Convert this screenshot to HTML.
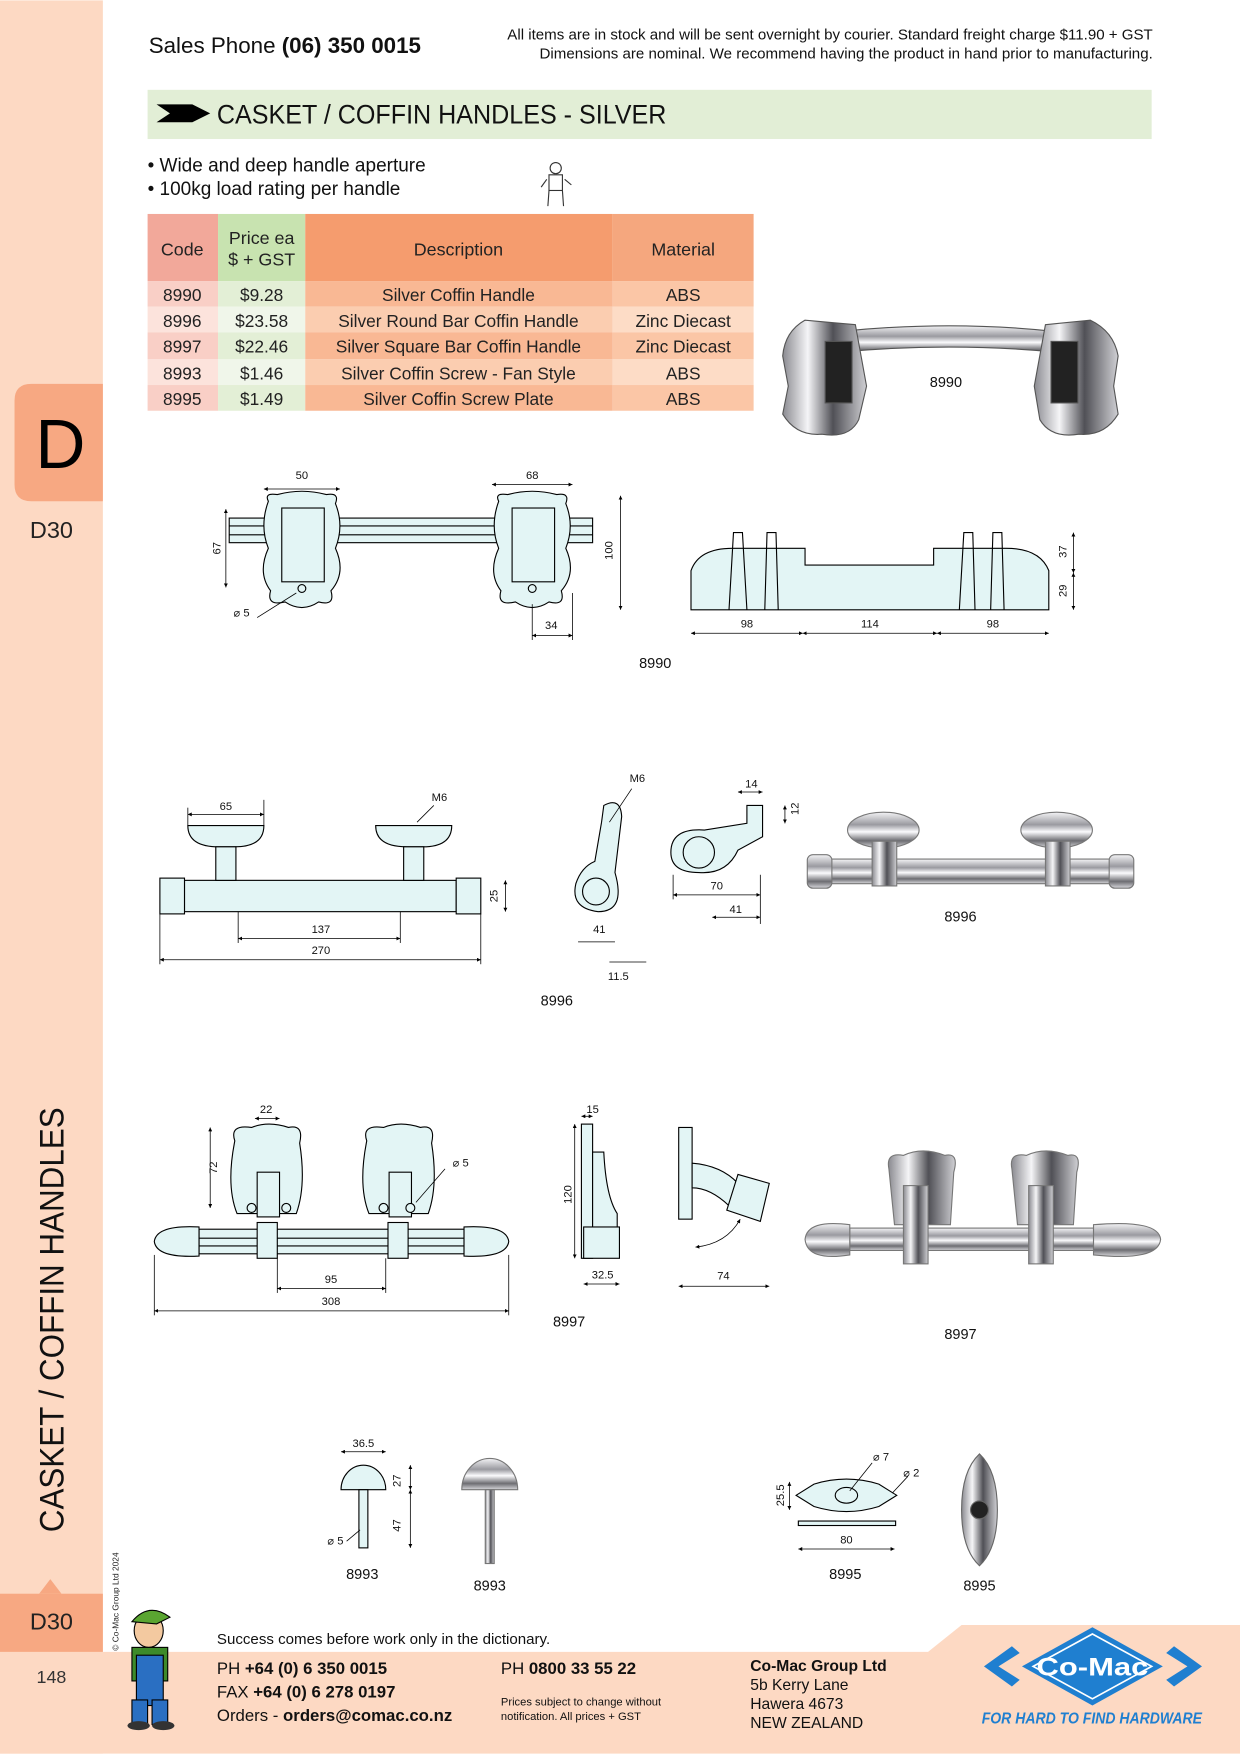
<!DOCTYPE html>
<html><head><meta charset="utf-8"><style>
html,body{margin:0;padding:0;background:#fff;}
svg{display:block}
text{font-family:"Liberation Sans",sans-serif;}
</style></head><body>
<svg width="1240" height="1754" viewBox="0 0 1109 1568" xmlns="http://www.w3.org/2000/svg">
<defs>
<linearGradient id="chr" x1="0" y1="0" x2="0" y2="1">
<stop offset="0" stop-color="#f4f4f6"/><stop offset="0.35" stop-color="#9a9aa0"/><stop offset="0.55" stop-color="#fbfbfd"/><stop offset="0.8" stop-color="#6d6d72"/><stop offset="1" stop-color="#d8d8dc"/></linearGradient>
<linearGradient id="chrh" x1="0" y1="0" x2="1" y2="0">
<stop offset="0" stop-color="#8a8a90"/><stop offset="0.3" stop-color="#f5f5f7"/><stop offset="0.6" stop-color="#505056"/><stop offset="1" stop-color="#d0d0d4"/></linearGradient>
<marker id="ar" viewBox="0 0 6 6" refX="6" refY="3" markerWidth="5" markerHeight="5" orient="auto-start-reverse"><path d="M0,0L6,3L0,6z" fill="#000"/></marker>
</defs>

<!-- sidebar -->
<rect x="0" y="0" width="92" height="1568" fill="#fdd9c3"/>
<path d="M92,343 L28,343 Q13,343 13,358 L13,433 Q13,448 28,448 L92,448 Z" fill="#f7a882"/>
<text x="54" y="418" font-size="62" text-anchor="middle" fill="#000">D</text>
<text x="46" y="481" font-size="21" text-anchor="middle" fill="#222">D30</text>
<text transform="translate(57,1370) rotate(-90)" font-size="31" fill="#111" textLength="380" lengthAdjust="spacingAndGlyphs">CASKET / COFFIN HANDLES</text>
<text transform="translate(106,1476) rotate(-90)" font-size="7.5" fill="#222">© Co-Mac Group Ltd 2024</text>

<!-- footer band -->
<polygon points="0,1477 830,1477 860,1453 1109,1453 1109,1568 0,1568" fill="#fdd9c3"/>
<polygon points="35,1425 45,1412 55,1425" fill="#f7a882"/>
<rect x="0" y="1425" width="92" height="52" fill="#f7a882"/>
<text x="46" y="1457" font-size="21" text-anchor="middle" fill="#222">D30</text>
<text x="46" y="1505" font-size="16" text-anchor="middle" fill="#333">148</text>

<!-- mascot -->
<g>
<ellipse cx="133" cy="1458" rx="13" ry="15" fill="#f3c9a0" stroke="#000"/>
<path d="M118,1450 Q133,1432 152,1446 L140,1452 Z" fill="#5aa531" stroke="#000"/>
<rect x="118" y="1473" width="32" height="30" fill="#3d8a2a" stroke="#000"/>
<rect x="122" y="1480" width="24" height="45" fill="#2a6fc2" stroke="#000"/>
<rect x="118" y="1520" width="14" height="22" fill="#2a6fc2" stroke="#000"/>
<rect x="136" y="1520" width="14" height="22" fill="#2a6fc2" stroke="#000"/>
<ellipse cx="124" cy="1543" rx="10" ry="4" fill="#333"/><ellipse cx="146" cy="1543" rx="10" ry="4" fill="#333"/>
</g>

<text x="194" y="1470" font-size="13.5" fill="#111">Success comes before work only in the dictionary.</text>
<text x="194" y="1497" font-size="15" fill="#111">PH  <tspan font-weight="bold">+64 (0) 6 350 0015</tspan></text>
<text x="194" y="1518" font-size="15" fill="#111">FAX <tspan font-weight="bold">+64 (0) 6 278 0197</tspan></text>
<text x="194" y="1539" font-size="15" fill="#111">Orders - <tspan font-weight="bold">orders@comac.co.nz</tspan></text>
<text x="448" y="1497" font-size="15" fill="#111">PH   <tspan font-weight="bold">0800 33 55 22</tspan></text>
<text x="448" y="1525" font-size="10" fill="#111">Prices subject to change without</text>
<text x="448" y="1538" font-size="10" fill="#111">notification. All prices + GST</text>
<text x="671" y="1494" font-size="14" font-weight="bold" fill="#111">Co-Mac Group Ltd</text>
<text x="671" y="1511" font-size="14" fill="#111">5b Kerry Lane</text>
<text x="671" y="1528" font-size="14" fill="#111">Hawera 4673</text>
<text x="671" y="1545" font-size="14" fill="#111">NEW ZEALAND</text>
<!-- logo -->
<polygon points="880,1490 905,1472 912,1478 893,1490 912,1502 905,1508" fill="#1f7fd0"/>
<polygon points="1075,1490 1050,1472 1043,1478 1062,1490 1043,1502 1050,1508" fill="#1f7fd0"/>
<polygon points="977,1455 1040,1490 977,1525 914,1490" fill="#1f7fd0"/>
<polygon points="977,1461 1030,1490 977,1519 924,1490" fill="none" stroke="#fff" stroke-width="1.5"/>
<text x="977" y="1498" font-size="22" font-weight="bold" fill="#fff" text-anchor="middle" textLength="100" lengthAdjust="spacingAndGlyphs">Co-Mac</text>
<text x="878" y="1541" font-size="14" font-weight="bold" font-style="italic" fill="#1f7fd0" textLength="197" lengthAdjust="spacingAndGlyphs">FOR HARD TO FIND HARDWARE</text>

<!-- header -->
<text x="133" y="47" font-size="20" fill="#111">Sales Phone  <tspan font-weight="bold">(06) 350 0015</tspan></text>
<text x="1031" y="35" font-size="13.5" fill="#111" text-anchor="end">All items are in stock and will be sent overnight by courier. Standard freight charge $11.90 + GST</text>
<text x="1031" y="52" font-size="13.5" fill="#111" text-anchor="end">Dimensions are nominal. We recommend having the product in hand prior to manufacturing.</text>

<rect x="132" y="80" width="898" height="44" fill="#e2eed6"/>
<polygon points="140,93 172,93 188,101 172,109 140,109 152,101" fill="#000"/>
<text x="194" y="110" font-size="24" fill="#111" textLength="402" lengthAdjust="spacingAndGlyphs">CASKET / COFFIN HANDLES - SILVER</text>

<text x="132" y="153" font-size="17" fill="#111">• Wide and deep handle aperture</text>
<text x="132" y="174" font-size="17" fill="#111">• 100kg load rating per handle</text>
<g fill="none" stroke="#333" stroke-width="1">
<circle cx="497" cy="150" r="5"/><rect x="491" y="156" width="12" height="14"/><path d="M491,170 L490,184 M503,170 L504,184 M489,160 L484,167 M505,160 L511,165"/>
</g>

<!-- table -->
<rect x="132" y="191" width="63" height="60" fill="#f2a89a"/>
<rect x="195" y="191" width="78" height="60" fill="#c8e3b0"/>
<rect x="273" y="191" width="275" height="60" fill="#f59c6e"/>
<rect x="548" y="191" width="126" height="60" fill="#f5a77e"/>
<g font-size="16" fill="#222" text-anchor="middle">
<text x="163" y="228">Code</text>
<text x="234" y="218">Price ea</text><text x="234" y="237">$ + GST</text>
<text x="410" y="228">Description</text>
<text x="611" y="228">Material</text>
</g>
<g>
<rect x="132" y="251" width="63" height="23" fill="#f9cfc6"/><rect x="195" y="251" width="78" height="23" fill="#e3efd6"/><rect x="273" y="251" width="275" height="23" fill="#f9b894"/><rect x="548" y="251" width="126" height="23" fill="#fbc6a6"/>
<rect x="132" y="274" width="63" height="23" fill="#fce3dc"/><rect x="195" y="274" width="78" height="23" fill="#f0f6ea"/><rect x="273" y="274" width="275" height="23" fill="#fbcdb0"/><rect x="548" y="274" width="126" height="23" fill="#fddcc6"/>
<rect x="132" y="297" width="63" height="24" fill="#f9cfc6"/><rect x="195" y="297" width="78" height="24" fill="#e3efd6"/><rect x="273" y="297" width="275" height="24" fill="#f9b894"/><rect x="548" y="297" width="126" height="24" fill="#fbc6a6"/>
<rect x="132" y="321" width="63" height="23" fill="#fce3dc"/><rect x="195" y="321" width="78" height="23" fill="#f0f6ea"/><rect x="273" y="321" width="275" height="23" fill="#fbcdb0"/><rect x="548" y="321" width="126" height="23" fill="#fddcc6"/>
<rect x="132" y="344" width="63" height="23" fill="#f9cfc6"/><rect x="195" y="344" width="78" height="23" fill="#e3efd6"/><rect x="273" y="344" width="275" height="23" fill="#f9b894"/><rect x="548" y="344" width="126" height="23" fill="#fbc6a6"/>
</g>
<g font-size="15.5" fill="#222" text-anchor="middle">
<text x="163" y="269">8990</text><text x="234" y="269">$9.28</text><text x="410" y="269">Silver Coffin Handle</text><text x="611" y="269">ABS</text>
<text x="163" y="292">8996</text><text x="234" y="292">$23.58</text><text x="410" y="292">Silver Round Bar Coffin Handle</text><text x="611" y="292">Zinc Diecast</text>
<text x="163" y="315">8997</text><text x="234" y="315">$22.46</text><text x="410" y="315">Silver Square Bar Coffin Handle</text><text x="611" y="315">Zinc Diecast</text>
<text x="163" y="339">8993</text><text x="234" y="339">$1.46</text><text x="410" y="339">Silver Coffin Screw - Fan Style</text><text x="611" y="339">ABS</text>
<text x="163" y="362">8995</text><text x="234" y="362">$1.49</text><text x="410" y="362">Silver Coffin Screw Plate</text><text x="611" y="362">ABS</text>
</g>

<!-- 8990 photo -->
<g stroke="#555" stroke-width="1">
<path d="M720,300 Q850,282 975,300 L975,318 Q850,302 720,318 Z" fill="url(#chr)"/>
<path d="M700,318 Q702,296 720,286 L765,290 L775,345 L768,375 Q760,392 735,388 Q712,390 700,370 L705,345 Z" fill="url(#chrh)"/>
<path d="M935,290 L975,286 Q996,296 1000,318 L996,345 L1000,370 Q988,390 965,388 Q940,392 930,375 L925,345 Z" fill="url(#chrh)"/>
<rect x="738" y="305" width="24" height="55" fill="#222"/><rect x="940" y="305" width="24" height="55" fill="#222"/>
</g>
<text x="846" y="346" font-size="13" text-anchor="middle" fill="#111">8990</text>

<!-- drawings style -->
<g fill="#e3f5f5" stroke="#000" stroke-width="1">
<!-- 8990 top view -->
<rect x="205" y="463" width="325" height="22"/>
<line x1="205" y1="470" x2="530" y2="470"/><line x1="205" y1="478" x2="530" y2="478"/>
<path d="M240,448 Q236,440 248,442 Q270,436 292,442 Q304,440 300,450 Q308,470 300,490 Q310,512 296,528 Q300,542 285,538 Q270,548 255,538 Q238,542 242,528 Q230,512 240,490 Q232,470 240,448 Z"/>
<rect x="252" y="454" width="38" height="66"/>
<path d="M446,448 Q442,440 454,442 Q476,436 498,442 Q510,440 506,450 Q514,470 506,490 Q516,512 502,528 Q506,542 491,538 Q476,548 461,538 Q444,542 448,528 Q436,512 446,490 Q438,470 446,448 Z"/>
<rect x="458" y="454" width="38" height="66"/>
<circle cx="270" cy="526" r="3.5"/><circle cx="476" cy="526" r="3.5"/>
<!-- 8990 side view -->
<path d="M618,545 L618,510 Q625,490 655,490 L720,490 L720,505 L835,505 L835,490 L900,490 Q930,490 938,510 L938,545 Z"/>
<path d="M652,545 L656,476 L664,476 L668,545 M684,545 L686,476 L694,476 L696,545 M858,545 L862,476 L870,476 L872,545 M886,545 L888,476 L896,476 L898,545" fill="none"/>
</g>
<g stroke="#000" stroke-width="0.7" fill="none">
<line x1="236" y1="437" x2="304" y2="437" marker-start="url(#ar)" marker-end="url(#ar)"/>
<line x1="440" y1="433" x2="512" y2="433" marker-start="url(#ar)" marker-end="url(#ar)"/>
<line x1="202" y1="455" x2="202" y2="525" marker-start="url(#ar)" marker-end="url(#ar)"/>
<line x1="555" y1="443" x2="555" y2="545" marker-start="url(#ar)" marker-end="url(#ar)"/>
<line x1="476" y1="568" x2="512" y2="568" marker-start="url(#ar)" marker-end="url(#ar)"/>
<line x1="476" y1="540" x2="476" y2="572"/><line x1="512" y1="530" x2="512" y2="572"/>
<line x1="618" y1="566" x2="718" y2="566" marker-start="url(#ar)" marker-end="url(#ar)"/>
<line x1="718" y1="566" x2="838" y2="566" marker-start="url(#ar)" marker-end="url(#ar)"/>
<line x1="838" y1="566" x2="938" y2="566" marker-start="url(#ar)" marker-end="url(#ar)"/>
<line x1="960" y1="476" x2="960" y2="512" marker-start="url(#ar)" marker-end="url(#ar)"/>
<line x1="960" y1="512" x2="960" y2="545" marker-start="url(#ar)" marker-end="url(#ar)"/>
<line x1="230" y1="552" x2="265" y2="530"/>
</g>
<g font-size="10" fill="#111" text-anchor="middle">
<text x="270" y="428">50</text><text x="476" y="428">68</text>
<text transform="translate(197,490) rotate(-90)">67</text>
<text transform="translate(548,492) rotate(-90)">100</text>
<text x="493" y="562">34</text><text x="216" y="551">⌀ 5</text>
<text x="668" y="561">98</text><text x="778" y="561">114</text><text x="888" y="561">98</text>
<text transform="translate(954,493) rotate(-90)">37</text>
<text transform="translate(954,528) rotate(-90)">29</text>
</g>
<text x="586" y="597" font-size="13" text-anchor="middle" fill="#111">8990</text>

<!-- 8996 drawings -->
<g fill="#e3f5f5" stroke="#000" stroke-width="1">
<rect x="165" y="787" width="243" height="28"/>
<rect x="143" y="785" width="22" height="32"/><rect x="408" y="785" width="22" height="32"/>
<path d="M168,738 L236,738 Q236,757 210,757 L196,757 Q168,757 168,738 Z"/>
<rect x="193" y="757" width="18" height="30"/>
<path d="M336,738 L404,738 Q404,757 378,757 L364,757 Q336,757 336,738 Z"/>
<rect x="361" y="757" width="18" height="30"/>
<path d="M540,720 Q555,712 556,730 L550,780 Q560,815 535,815 Q510,812 515,790 Q520,775 532,770 L538,735 Z"/>
<circle cx="533" cy="797" r="12"/>
<path d="M600,762 Q600,740 630,742 L668,736 L668,720 L682,720 L682,748 L660,760 Q650,782 625,780 Q600,780 600,762 Z"/>
<circle cx="625" cy="762" r="14"/>
</g>
<g stroke="#000" stroke-width="0.7" fill="none">
<line x1="168" y1="728" x2="236" y2="728" marker-start="url(#ar)" marker-end="url(#ar)"/>
<line x1="168" y1="722" x2="168" y2="738"/><line x1="236" y1="715" x2="236" y2="738"/>
<line x1="213" y1="839" x2="358" y2="839" marker-start="url(#ar)" marker-end="url(#ar)"/>
<line x1="143" y1="858" x2="430" y2="858" marker-start="url(#ar)" marker-end="url(#ar)"/>
<line x1="213" y1="815" x2="213" y2="843"/><line x1="358" y1="815" x2="358" y2="843"/>
<line x1="143" y1="817" x2="143" y2="862"/><line x1="430" y1="817" x2="430" y2="862"/>
<line x1="452" y1="787" x2="452" y2="815" marker-start="url(#ar)" marker-end="url(#ar)"/>
<line x1="373" y1="735" x2="388" y2="720"/>
<line x1="545" y1="735" x2="565" y2="705"/>
<line x1="517" y1="842" x2="550" y2="842"/><line x1="545" y1="860" x2="578" y2="860"/>
<line x1="602" y1="800" x2="680" y2="800" marker-start="url(#ar)" marker-end="url(#ar)"/>
<line x1="637" y1="820" x2="680" y2="820" marker-start="url(#ar)" marker-end="url(#ar)"/>
<line x1="680" y1="782" x2="680" y2="826"/><line x1="602" y1="782" x2="602" y2="804"/>
<line x1="660" y1="708" x2="682" y2="708" marker-start="url(#ar)" marker-end="url(#ar)"/>
<line x1="702" y1="720" x2="702" y2="736" marker-start="url(#ar)" marker-end="url(#ar)"/>
</g>
<g font-size="10" fill="#111" text-anchor="middle">
<text x="202" y="724">65</text><text x="393" y="716">M6</text>
<text x="287" y="834">137</text><text x="287" y="853">270</text>
<text transform="translate(445,801) rotate(-90)">25</text>
<text x="570" y="699">M6</text><text x="536" y="834">41</text><text x="553" y="876">11.5</text>
<text x="672" y="704">14</text><text transform="translate(714,723) rotate(-90)">12</text>
<text x="641" y="795">70</text><text x="658" y="816">41</text>
</g>
<text x="498" y="899" font-size="13" text-anchor="middle" fill="#111">8996</text>
<!-- 8996 photo -->
<g stroke="#777" stroke-width="1">
<rect x="735" y="768" width="268" height="22" rx="8" fill="url(#chr)"/>
<rect x="722" y="764" width="22" height="30" rx="5" fill="url(#chr)"/>
<rect x="992" y="764" width="22" height="30" rx="5" fill="url(#chr)"/>
<ellipse cx="790" cy="742" rx="32" ry="16" fill="url(#chr)"/><rect x="780" y="752" width="22" height="40" fill="url(#chrh)"/>
<ellipse cx="945" cy="742" rx="32" ry="16" fill="url(#chr)"/><rect x="935" y="752" width="22" height="40" fill="url(#chrh)"/>
</g>
<text x="859" y="824" font-size="13" text-anchor="middle" fill="#111">8996</text>

<!-- 8997 drawings -->
<g fill="#e3f5f5" stroke="#000" stroke-width="1">
<rect x="178" y="1099" width="237" height="22"/>
<line x1="178" y1="1107" x2="415" y2="1107"/><line x1="178" y1="1114" x2="415" y2="1114"/>
<path d="M138,1110 Q140,1095 178,1097 L178,1123 Q140,1125 138,1110 Z"/>
<path d="M455,1110 Q453,1095 415,1097 L415,1123 Q453,1125 455,1110 Z"/>
<path d="M210,1020 Q205,1005 225,1008 Q240,1002 258,1008 Q272,1005 268,1022 Q274,1060 265,1085 L212,1085 Q202,1060 210,1020 Z"/>
<rect x="230" y="1048" width="20" height="40"/><rect x="230" y="1093" width="18" height="32"/>
<circle cx="225" cy="1080" r="4"/><circle cx="256" cy="1080" r="4"/>
<path d="M328,1020 Q323,1005 343,1008 Q358,1002 376,1008 Q390,1005 386,1022 Q392,1060 383,1085 L330,1085 Q320,1060 328,1020 Z"/>
<rect x="348" y="1048" width="20" height="40"/><rect x="347" y="1093" width="18" height="32"/>
<circle cx="343" cy="1080" r="4"/><circle cx="367" cy="1080" r="4"/>
<rect x="520" y="1005" width="10" height="120"/>
<path d="M530,1030 L540,1030 Q542,1070 552,1085 L552,1100 L530,1100 Z"/>
<rect x="522" y="1097" width="32" height="28"/>
<rect x="607" y="1008" width="12" height="82"/>
<path d="M619,1040 Q645,1042 660,1058 L652,1078 Q635,1062 619,1062 Z"/>
<polygon points="660,1050 688,1058 680,1092 650,1082"/>
</g>
<g stroke="#000" stroke-width="0.7" fill="none">
<line x1="228" y1="1000" x2="250" y2="1000" marker-start="url(#ar)" marker-end="url(#ar)"/>
<line x1="188" y1="1008" x2="188" y2="1080" marker-start="url(#ar)" marker-end="url(#ar)"/>
<line x1="248" y1="1152" x2="345" y2="1152" marker-start="url(#ar)" marker-end="url(#ar)"/>
<line x1="138" y1="1172" x2="455" y2="1172" marker-start="url(#ar)" marker-end="url(#ar)"/>
<line x1="138" y1="1122" x2="138" y2="1176"/><line x1="455" y1="1122" x2="455" y2="1176"/>
<line x1="248" y1="1125" x2="248" y2="1156"/><line x1="345" y1="1125" x2="345" y2="1156"/>
<line x1="398" y1="1045" x2="372" y2="1075"/>
<line x1="520" y1="998" x2="530" y2="998" marker-start="url(#ar)" marker-end="url(#ar)"/>
<line x1="514" y1="1005" x2="514" y2="1125" marker-start="url(#ar)" marker-end="url(#ar)"/>
<line x1="522" y1="1148" x2="554" y2="1148" marker-start="url(#ar)" marker-end="url(#ar)"/>
<line x1="607" y1="1150" x2="688" y2="1150" marker-start="url(#ar)" marker-end="url(#ar)"/>
<path d="M622,1115 Q650,1112 662,1090" marker-start="url(#ar)" marker-end="url(#ar)"/>
</g>
<g font-size="10" fill="#111" text-anchor="middle">
<text x="238" y="995">22</text><text transform="translate(194,1044) rotate(-90)">72</text>
<text x="412" y="1043">⌀ 5</text><text x="296" y="1147">95</text><text x="296" y="1167">308</text>
<text x="530" y="995">15</text><text transform="translate(511,1068) rotate(-90)">120</text>
<text x="539" y="1143">32.5</text><text x="647" y="1144">74</text>
</g>
<text x="509" y="1186" font-size="13" text-anchor="middle" fill="#111">8997</text>
<!-- 8997 photo -->
<g stroke="#777" stroke-width="1">
<path d="M795,1045 Q792,1030 808,1033 Q825,1025 845,1033 Q858,1030 853,1048 L850,1095 L800,1095 Z" fill="url(#chrh)"/>
<path d="M905,1045 Q902,1030 918,1033 Q935,1025 955,1033 Q968,1030 963,1048 L960,1095 L910,1095 Z" fill="url(#chrh)"/>
<rect x="760" y="1098" width="218" height="20" fill="url(#chr)"/>
<path d="M720,1108 Q722,1090 760,1095 L760,1122 Q722,1128 720,1108 Z" fill="url(#chr)"/>
<path d="M1038,1108 Q1036,1090 978,1095 L978,1122 Q1036,1128 1038,1108 Z" fill="url(#chr)"/>
<rect x="808" y="1060" width="22" height="70" fill="url(#chrh)"/><rect x="920" y="1060" width="22" height="70" fill="url(#chrh)"/>
</g>
<text x="859" y="1197" font-size="13" text-anchor="middle" fill="#111">8997</text>

<!-- 8993 -->
<g fill="#e3f5f5" stroke="#000" stroke-width="1">
<path d="M305,1332 A20,22 0 0 1 345,1332 Z"/>
<rect x="321" y="1332" width="8" height="52"/>
</g>
<g stroke="#000" stroke-width="0.7" fill="none">
<line x1="305" y1="1298" x2="345" y2="1298" marker-start="url(#ar)" marker-end="url(#ar)"/>
<line x1="367" y1="1310" x2="367" y2="1332" marker-start="url(#ar)" marker-end="url(#ar)"/>
<line x1="367" y1="1332" x2="367" y2="1384" marker-start="url(#ar)" marker-end="url(#ar)"/>
<line x1="310" y1="1378" x2="322" y2="1368"/>
</g>
<g font-size="10" fill="#111" text-anchor="middle">
<text x="325" y="1294">36.5</text><text transform="translate(358,1324) rotate(-90)">27</text>
<text transform="translate(358,1364) rotate(-90)">47</text><text x="300" y="1381">⌀ 5</text>
</g>
<text x="324" y="1412" font-size="13" text-anchor="middle" fill="#111">8993</text>
<g stroke="#777"><path d="M413,1332 A25,28 0 0 1 463,1332 Z" fill="url(#chr)"/><rect x="434" y="1332" width="8" height="66" fill="url(#chrh)"/></g>
<text x="438" y="1422" font-size="13" text-anchor="middle" fill="#111">8993</text>

<!-- 8995 -->
<g fill="#e3f5f5" stroke="#000" stroke-width="1">
<path d="M712,1337 L728,1327 Q757,1318 786,1327 L802,1337 L786,1347 Q757,1356 728,1347 Z"/>
<ellipse cx="757" cy="1337" rx="10" ry="7"/>
<rect x="714" y="1360" width="87" height="4"/>
</g>
<g stroke="#000" stroke-width="0.7" fill="none">
<line x1="714" y1="1385" x2="800" y2="1385" marker-start="url(#ar)" marker-end="url(#ar)"/>
<line x1="706" y1="1325" x2="706" y2="1350" marker-start="url(#ar)" marker-end="url(#ar)"/>
<line x1="780" y1="1308" x2="760" y2="1333"/><line x1="812" y1="1320" x2="798" y2="1335"/>
</g>
<g font-size="10" fill="#111" text-anchor="middle">
<text x="788" y="1306">⌀ 7</text><text x="815" y="1320">⌀ 2</text>
<text transform="translate(701,1337) rotate(-90)">25.5</text><text x="757" y="1380">80</text>
</g>
<text x="756" y="1412" font-size="13" text-anchor="middle" fill="#111">8995</text>
<g stroke="#666"><path d="M876,1300 Q892,1315 892,1350 Q892,1385 876,1400 Q860,1385 860,1350 Q860,1315 876,1300 Z" fill="url(#chrh)"/><circle cx="876" cy="1350" r="8" fill="#222"/></g>
<text x="876" y="1422" font-size="13" text-anchor="middle" fill="#111">8995</text>
</svg>
</body></html>
